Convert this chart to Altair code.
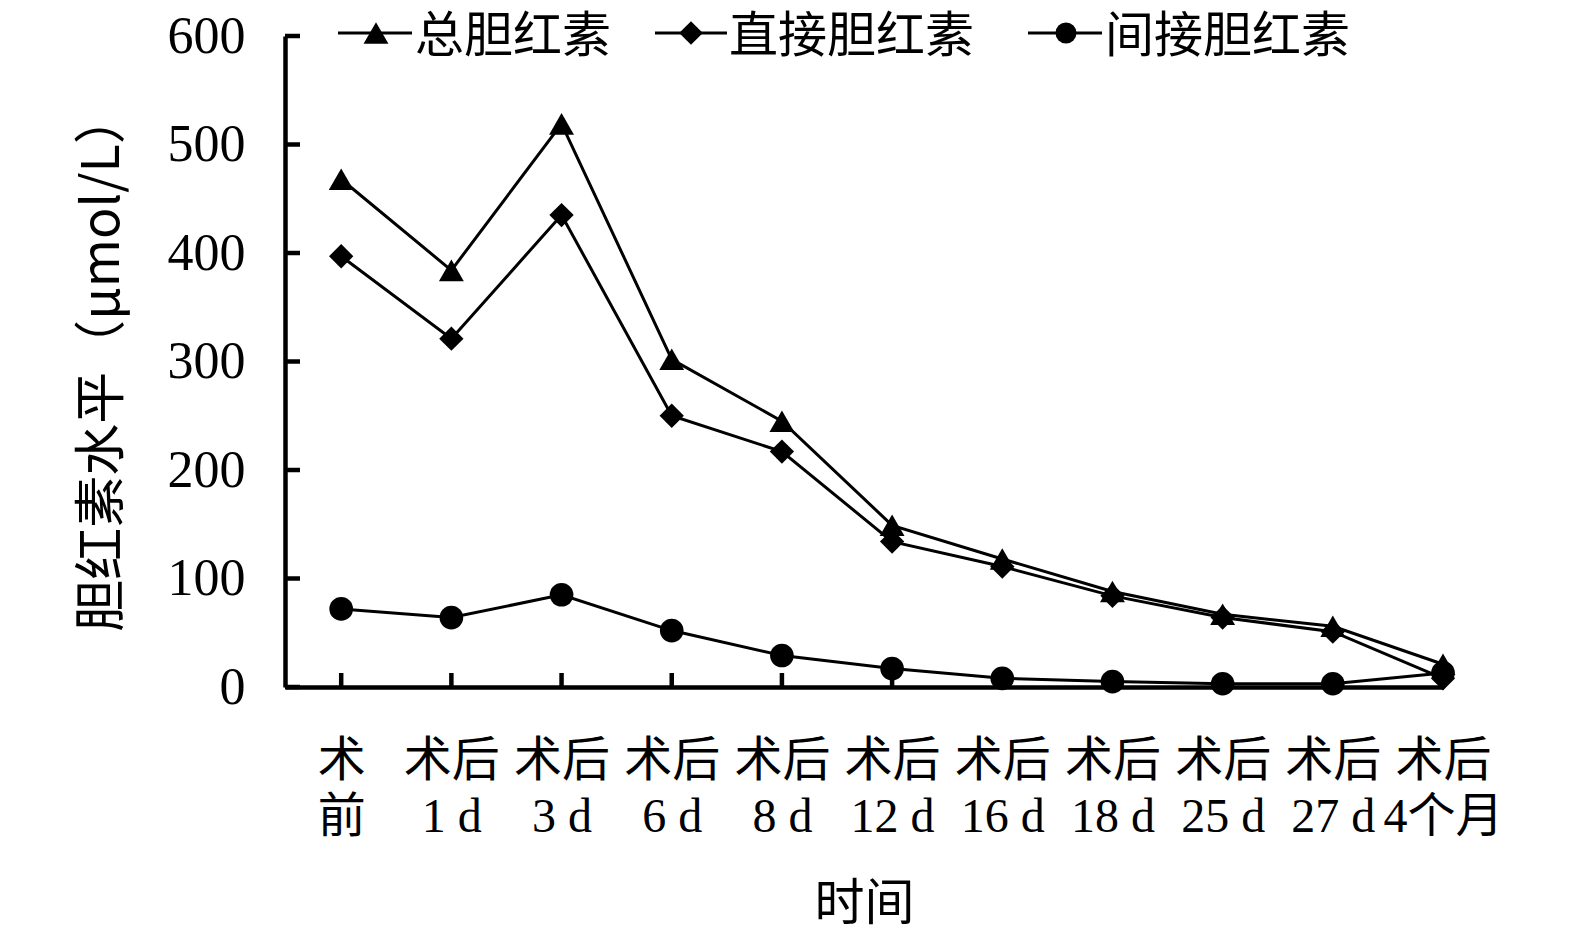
import json
import altair as alt
import pandas as pd

# ---- data ----
x_labels = ["术|前", "术后|1 d", "术后|3 d", "术后|6 d", "术后|8 d", "术后|12 d",
            "术后|16 d", "术后|18 d", "术后|25 d", "术后|27 d", "术后|4个月"]
series_names = ["总胆红素", "直接胆红素", "间接胆红素"]
total = [468, 384, 519, 302, 245, 149, 118, 88, 67, 56, 21]
direct = [397, 321, 435, 250, 217, 134, 111, 84, 64, 51, 8]
indirect = [72, 64, 85, 52, 29, 17, 8, 5, 3, 3, 13]
y_ticks = [0, 100, 200, 300, 400, 500, 600]

rows = []
for name, vals in zip(series_names, [total, direct, indirect]):
    for i, v in enumerate(vals):
        rows.append({"idx": i, "value": v, "series": name})
df = pd.DataFrame(rows)

W, H = 1158, 651
LAT = "Liberation Serif, Noto Sans CJK SC"
CJK = "Noto Sans CJK SC, Liberation Serif"

x_scale = alt.Scale(domain=[-0.51, 10], nice=False, zero=False)
y_scale = alt.Scale(domain=[0, 600], nice=False)

shape_scale = alt.Scale(domain=series_names, range=["triangle-up", "diamond", "circle"])
size_scale = alt.Scale(domain=series_names, range=[620, 560, 440])

label_expr = "split(" + json.dumps(x_labels, ensure_ascii=False) + "[datum.value], '|')"

base = alt.Chart(df)

lines = base.mark_line(color="black", strokeWidth=3).encode(
    x=alt.X("idx:Q", scale=x_scale,
            axis=alt.Axis(values=list(range(11)), labelExpr=label_expr, title="时间",
                          ticks=False, grid=False, labelPadding=50, labelLineHeight=56,
                          labelOverlap=False, labelBound=False, labelFlush=False,
                          labelFontSize=48, labelFont=LAT, titleFont=CJK, titleFontSize=50,
                          titleFontWeight="normal", titlePadding=38, labelColor="black",
                          titleColor="black", domainColor="black", domainWidth=4.5,
                          labelBaseline="top")),
    y=alt.Y("value:Q", scale=y_scale,
            axis=alt.Axis(values=y_ticks, title="胆红素水平（μmol/L）", ticks=False, grid=False,
                          labelPadding=40, labelFontSize=52, labelFont=LAT, titleFont=CJK,
                          titleFontSize=52, titleFontWeight="normal", titlePadding=38,
                          labelOverlap=False, labelFlush=False,
                          labelColor="black", titleColor="black", domainColor="black",
                          domainWidth=4.5)),
    detail="series:N",
)

points = base.mark_point(filled=True, color="black", opacity=1).encode(
    x=alt.X("idx:Q", scale=x_scale),
    y=alt.Y("value:Q", scale=y_scale),
    shape=alt.Shape("series:N", scale=shape_scale, legend=None),
    size=alt.Size("series:N", scale=size_scale, legend=None),
)

ytick_df = pd.DataFrame({"v": y_ticks})
yticks = alt.Chart(ytick_df).mark_rule(color="black", strokeWidth=4.5).encode(
    y=alt.Y("v:Q", scale=y_scale),
    x=alt.value(0), x2=alt.value(15),
)
xtick_df = pd.DataFrame({"i": list(range(11))})
xticks = alt.Chart(xtick_df).mark_rule(color="black", strokeWidth=4.5).encode(
    x=alt.X("i:Q", scale=x_scale),
    y=alt.value(H), y2=alt.value(H - 14),
)

# ---- manual legend (line + marker + text) ----
one = pd.DataFrame({"a": [0]})
legend_layers = []
leg_y = -3
leg_pos = [(53, 127, 91, 130), (370, 442, 406, 444), (743, 817, 781, 820)]
shapes = ["triangle-up", "diamond", "circle"]
sizes = [620, 560, 440]
for name, (x1, x2, xm, xt), shp, sz in zip(series_names, leg_pos, shapes, sizes):
    c = alt.Chart(one)
    legend_layers.append(c.mark_rule(color="black", strokeWidth=3).encode(
        x=alt.value(x1), x2=alt.value(x2), y=alt.value(leg_y)))
    legend_layers.append(c.mark_point(filled=True, color="black", opacity=1, shape=shp, size=sz).encode(
        x=alt.value(xm), y=alt.value(leg_y)))
    legend_layers.append(c.mark_text(text=name, font=CJK, fontSize=49, align="left",
                                     baseline="middle", color="black").encode(
        x=alt.value(xt), y=alt.value(leg_y + 4)))

chart = alt.layer(xticks, yticks, lines, points, *legend_layers).properties(
    width=W, height=H,
    background="white",
    autosize=alt.AutoSizeParams(type="none"),
    padding={"left": 277, "top": 28, "right": 120, "bottom": 246},
).configure_view(stroke=None)

chart.save("out.html", embed_options={"renderer": "svg", "actions": False})
